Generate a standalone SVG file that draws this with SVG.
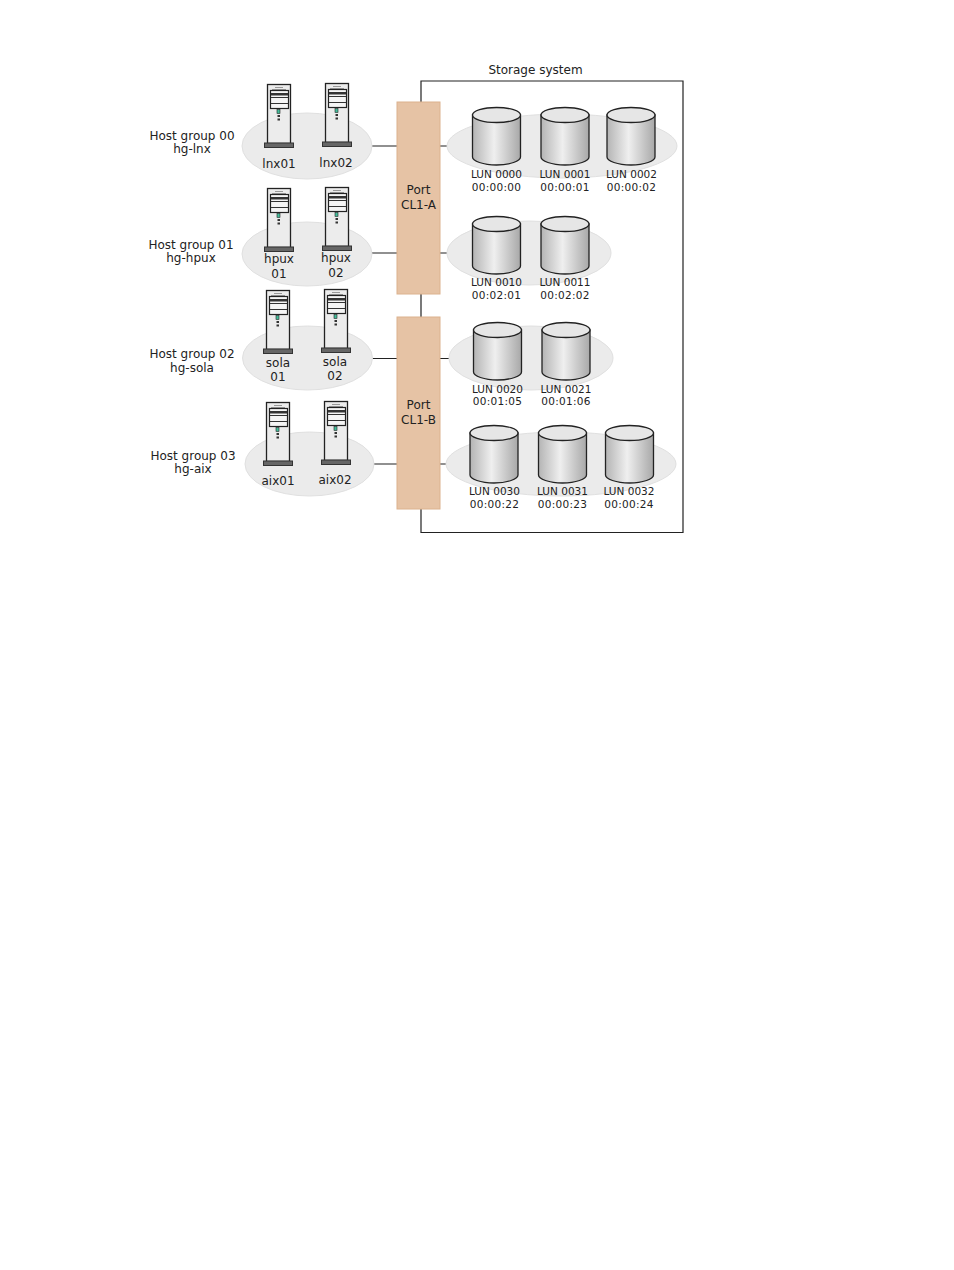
<svg xmlns="http://www.w3.org/2000/svg" width="954" height="1270" viewBox="0 0 954 1270">
<style>
text{font-family:"DejaVu Sans",Verdana,sans-serif;font-size:12px;fill:#222;text-anchor:middle}
.lun{font-size:10.500px}
.ts{font-size:10.500px;letter-spacing:.3px}
.grp{fill:#ebebeb;stroke:#e0e0e0;stroke-width:1}
.port{fill:#e6c3a5;stroke:#dcb28e;stroke-width:1}
.conn{stroke:#222;stroke-width:1.200;fill:none}
</style>
<defs>
<linearGradient id="cyl" x1="0" y1="0" x2="1" y2="0">
<stop offset="0" stop-color="#b4b4b4"/><stop offset="0.45" stop-color="#efefef"/><stop offset="1" stop-color="#a8a8a8"/>
</linearGradient>
<g id="server">
<rect x="0.500" y="0.500" width="23" height="59" fill="#ececec" stroke="#222" stroke-width="1.300"/>
<path d="M8 3.500h8M5 5.500h14" stroke="#999" fill="none"/>
<rect x="3.500" y="6.500" width="18" height="18" fill="#f5f5f5" stroke="#222" stroke-width="1.200"/>
<rect x="4" y="9" width="17" height="2.500" fill="#333"/>
<path d="M4 13.500h17M4 19.500h17" stroke="#333"/>
<rect x="10" y="25.500" width="3" height="4" fill="#4b9" stroke="#222" stroke-width="0.600"/>
<rect x="10.500" y="31" width="2.500" height="2" fill="#333"/>
<rect x="10.500" y="34.500" width="2.500" height="2" fill="#333"/>
<rect x="-2.500" y="59" width="29" height="4.500" fill="#666" stroke="#333"/>
</g>
<g id="disk">
<path d="M0.500 8V50C0.500 54 11 58 24.500 58S48.500 54 48.500 50V8Z" fill="url(#cyl)" stroke="#222" stroke-width="1.300"/>
<ellipse cx="24.500" cy="8" rx="24" ry="7.500" fill="#e6e6e6" stroke="#222" stroke-width="1.300"/>
</g>
</defs>
<g id="connectors">
<path class="conn" d="M421 102V81H683V532.500H421V509M421 294V317"/>
<path class="conn" d="M372 146H397M440 146H447M372 253H397M440 253H447M372 358.500H397M440 358.500H449M373 464H397M440 464H446"/>
</g>
<text id="storage-label" x="535.500" y="74">Storage system</text>
<g id="group-00">
<ellipse class="grp" cx="307" cy="146" rx="65" ry="33"/>
<use href="#server" x="267" y="84"/><use href="#server" x="325" y="83"/>
<text x="279" y="168">lnx01</text><text x="336" y="167">lnx02</text>
<text x="192" y="140">Host group 00</text><text x="192" y="153">hg-lnx</text>
</g>
<g id="group-01">
<ellipse class="grp" cx="307" cy="254" rx="65" ry="32"/>
<use href="#server" x="267" y="188"/><use href="#server" x="325" y="187"/>
<text x="279" y="263">hpux</text><text x="279" y="278">01</text>
<text x="336" y="262">hpux</text><text x="336" y="277">02</text>
<text x="191" y="249">Host group 01</text><text x="191" y="262">hg-hpux</text>
</g>
<g id="group-02">
<ellipse class="grp" cx="307.500" cy="358" rx="65" ry="32"/>
<use href="#server" x="266" y="290"/><use href="#server" x="324" y="289"/>
<text x="278" y="367">sola</text><text x="278" y="381">01</text>
<text x="335" y="366">sola</text><text x="335" y="380">02</text>
<text x="192" y="358">Host group 02</text><text x="192" y="372">hg-sola</text>
</g>
<g id="group-03">
<ellipse class="grp" cx="309.500" cy="464" rx="64.500" ry="32"/>
<use href="#server" x="266" y="402"/><use href="#server" x="324" y="401"/>
<text x="278" y="485">aix01</text><text x="335" y="484">aix02</text>
<text x="193" y="460">Host group 03</text><text x="193" y="473">hg-aix</text>
</g>
<g id="port-a"><rect class="port" x="397" y="102" width="43" height="192"/><text x="418.500" y="194">Port</text><text x="418.500" y="209">CL1-A</text></g>
<g id="port-b"><rect class="port" x="397" y="317" width="43" height="192"/><text x="418.500" y="409">Port</text><text x="418.500" y="424">CL1-B</text></g>
<g id="luns-0"><ellipse class="grp" cx="562" cy="146" rx="115" ry="32"/>
<use href="#disk" x="472" y="107"/><use href="#disk" x="540.500" y="107"/><use href="#disk" x="606.500" y="107"/>
<text class="lun" x="496.500" y="178">LUN 0000</text><text class="ts" x="496.500" y="191">00:00:00</text>
<text class="lun" x="565" y="178">LUN 0001</text><text class="ts" x="565" y="191">00:00:01</text>
<text class="lun" x="631.500" y="178">LUN 0002</text><text class="ts" x="631.500" y="191">00:00:02</text></g>
<g id="luns-1"><ellipse class="grp" cx="529" cy="253" rx="82" ry="32"/>
<use href="#disk" x="472" y="216"/><use href="#disk" x="540.500" y="216"/>
<text class="lun" x="496.500" y="286">LUN 0010</text><text class="ts" x="496.500" y="299">00:02:01</text>
<text class="lun" x="565" y="286">LUN 0011</text><text class="ts" x="565" y="299">00:02:02</text></g>
<g id="luns-2"><ellipse class="grp" cx="531" cy="358" rx="82" ry="32"/>
<use href="#disk" x="473" y="322"/><use href="#disk" x="541.500" y="322"/>
<text class="lun" x="497.500" y="393">LUN 0020</text><text class="ts" x="497.500" y="405">00:01:05</text>
<text class="lun" x="566" y="393">LUN 0021</text><text class="ts" x="566" y="405">00:01:06</text></g>
<g id="luns-3"><ellipse class="grp" cx="561" cy="464" rx="115" ry="32"/>
<use href="#disk" x="469.500" y="425"/><use href="#disk" x="538" y="425"/><use href="#disk" x="605" y="425"/>
<text class="lun" x="494.500" y="495">LUN 0030</text><text class="ts" x="494.500" y="508">00:00:22</text>
<text class="lun" x="562.500" y="495">LUN 0031</text><text class="ts" x="562.500" y="508">00:00:23</text>
<text class="lun" x="629" y="495">LUN 0032</text><text class="ts" x="629" y="508">00:00:24</text></g>
</svg>
